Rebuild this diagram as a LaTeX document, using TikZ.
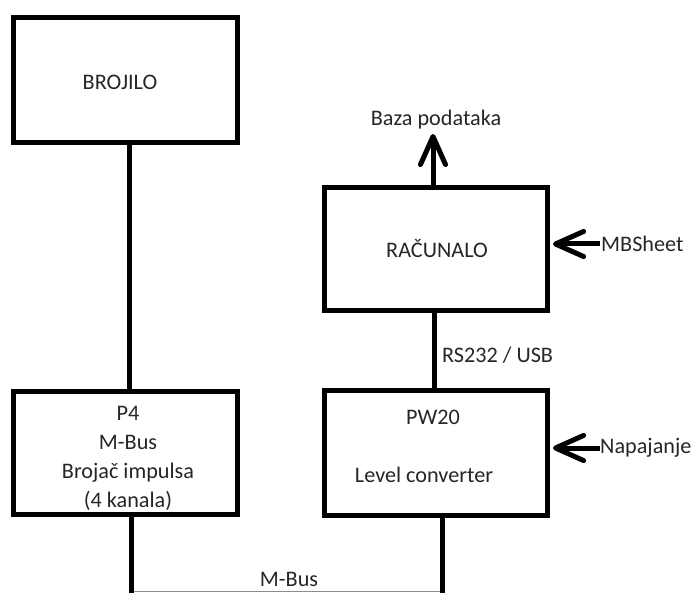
\documentclass[tikz,border=0pt]{standalone}
\usepackage{fontspec}
\setmainfont{Carlito}
\usetikzlibrary{arrows.meta}
\tikzset{
  blockbox/.style={draw=black, line width=5pt, inner sep=0pt, fill=white},
  lbl/.style={font=\fontsize{22.2}{29}\selectfont, text=black!85, inner sep=0pt},
  conn/.style={draw=black, line width=5pt},
  busline/.style={draw=black!45, line width=1.2pt},
  inarrow/.style={draw=black, line width=5pt, -{Straight Barb[length=28pt,width=25pt,round]}},
}
\begin{document}
\begin{tikzpicture}[x=1pt,y=-1pt]
\useasboundingbox (0,0) rectangle (696,593);
% boxes
\node[blockbox, minimum width=224pt, minimum height=125pt] (brojilo) at (125.5,80) {};
\node[blockbox, minimum width=224pt, minimum height=123pt] (p4) at (125.5,453) {};
\node[blockbox, minimum width=223pt, minimum height=123pt] (racunalo) at (436,249) {};
\node[blockbox, minimum width=223pt, minimum height=125pt] (pw20) at (436,453) {};
% texts in boxes
\node[lbl] (tbrojilo) at (120,82) {BROJILO};
\node[lbl] (tracunalo) at (437,248) {RAČUNALO};
\node[lbl, align=center] (tp4) at (128,458) {P4\\M-Bus\\Brojač impulsa\\(4 kanala)};
\node[lbl] (tpw20) at (433,417) {PW20};
\node[lbl] (tlevel) at (424,475) {Level converter};
% connectors
\draw[conn] ([xshift=3.5pt]brojilo.south) -- ([xshift=3.5pt]p4.north);
\draw[conn] ([xshift=-2pt]racunalo.south) -- ([xshift=-2pt]pw20.north);
\node[lbl, anchor=west] (trs) at (442,355) {RS232 / USB};
% bottom bus
\coordinate (busl) at (131,593);
\coordinate (busr) at (442,593);
\draw[conn] ([xshift=5.5pt]p4.south) -- (busl);
\draw[conn] ([xshift=6pt]pw20.south) -- (busr);
\draw[busline] ([xshift=2.5pt,yshift=1.5pt]busl) -- ([xshift=-2.5pt,yshift=1.5pt]busr);
\node[lbl] (tmbus) at (289,579) {M-Bus};
% output arrow
\coordinate (bazatip) at (433,134);
\draw[inarrow] ([xshift=-3pt]racunalo.north) -- (bazatip);
\node[lbl] (tbaza) at (436,120) {Baza podataka};
% input arrows
\coordinate (mbstart) at (600,244);
\draw[inarrow] (mbstart) -- ([yshift=5pt,xshift=3pt]racunalo.east);
\node[lbl, anchor=west] (tmbsheet) at (601,244) {MBSheet};
\coordinate (napstart) at (600,448);
\draw[inarrow] (napstart) -- ([yshift=5pt,xshift=3pt]pw20.east);
\node[lbl, anchor=west] (tnap) at (600,448) {Napajanje};
\end{tikzpicture}
\end{document}
